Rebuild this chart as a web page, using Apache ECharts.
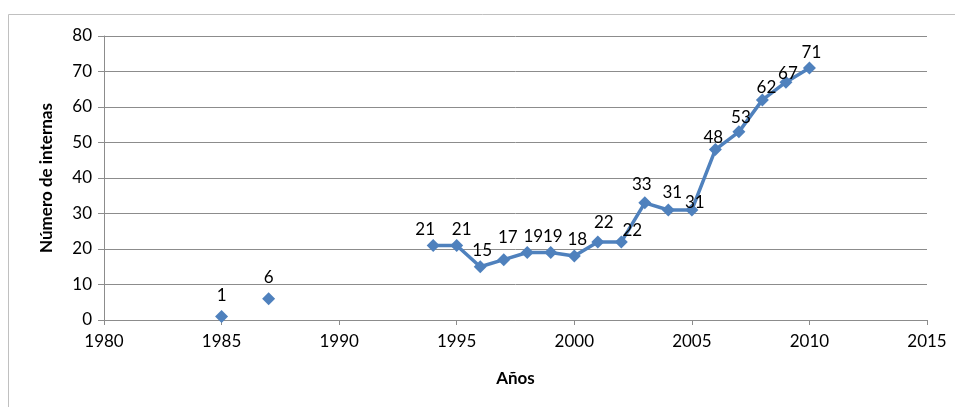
<!DOCTYPE html>
<html>
<head>
<meta charset="utf-8">
<script src="https://cdn.jsdelivr.net/npm/echarts@6/dist/echarts.min.js"></script>
<style>
html,body{margin:0;padding:0;background:#fff;}
#c{width:955px;height:407px;}
</style>
</head>
<body>
<div id="c"></div>
<script>
var years = [1985,1986,1987,1988,1989,1990,1991,1992,1993,1994,1995,1996,1997,1998,1999,2000,2001,2002,2003,2004,2005,2006,2007,2008,2009,2010];
var internas = [1,null,6,null,null,null,null,null,null,21,21,15,17,19,19,18,22,22,33,31,31,48,53,62,67,71];
var xTitle = 'Años';
var yTitle = 'Número de internas';

var labelOffsets = {1985:[0,-5],1987:[0,-5],1994:[-8,0],1995:[5,0],1996:[2,0],1997:[4,-6],1998:[6,0],1999:[2,0],2000:[3,-1],
  2001:[6,-3],2002:[11,5],2003:[-3,-2],2004:[4,-1],2005:[3,9],2006:[-2,4],2007:[2,2],2008:[4,4],2009:[2,7],2010:[2,1]};

var data = years.map(function(y,i){
  var v = internas[i];
  var item = {value:[y, v === null ? '-' : v]};
  if (labelOffsets[y]) item.label = {offset: labelOffsets[y]};
  return item;
});

var chart = echarts.init(document.getElementById('c'));
var font = 'Lato, "Open Sans", sans-serif';
chart.setOption({
  animation:false,
  backgroundColor:'#fff',
  textStyle:{fontFamily:font},
  graphic:[{type:'rect',shape:{x:8.5,y:14.5,width:1000,height:500},style:{fill:'none',stroke:'#c0c0c0',lineWidth:1}}],
  grid:{left:104,right:28,top:36,bottom:87},
  xAxis:{type:'value',min:1980,max:2015,interval:5,
    name:xTitle,nameLocation:'middle',nameGap:50,
    nameTextStyle:{fontSize:17,fontWeight:'bold',color:'#000',fontFamily:font},
    axisLine:{show:true,lineStyle:{color:'#8c8c8c',width:1}},
    axisTick:{show:true,length:5,lineStyle:{color:'#8c8c8c'}},
    axisLabel:{fontSize:17,color:'#000',margin:13,fontFamily:font,formatter:function(v){return String(v);}},
    splitLine:{show:false}},
  yAxis:{type:'value',min:0,max:80,interval:10,
    name:yTitle,nameLocation:'middle',nameGap:49,
    nameTextStyle:{fontSize:17,fontWeight:'bold',color:'#000',fontFamily:font},
    axisLine:{show:true,lineStyle:{color:'#8c8c8c',width:1}},
    axisTick:{show:true,length:6,lineStyle:{color:'#8c8c8c'}},
    axisLabel:{fontSize:17,color:'#000',margin:12,fontFamily:font},
    splitLine:{show:true,lineStyle:{color:'#8c8c8c',width:1}}},
  series:[{
    type:'line',
    data:data,
    connectNulls:false,
    symbol:'diamond',
    symbolSize:13,
    lineStyle:{color:'#4f81bd',width:3.5},
    itemStyle:{color:'#4f81bd'},
    label:{show:true,position:'top',distance:1,fontSize:17,color:'#000',fontFamily:font}
  }]
});
</script>
</body>
</html>
